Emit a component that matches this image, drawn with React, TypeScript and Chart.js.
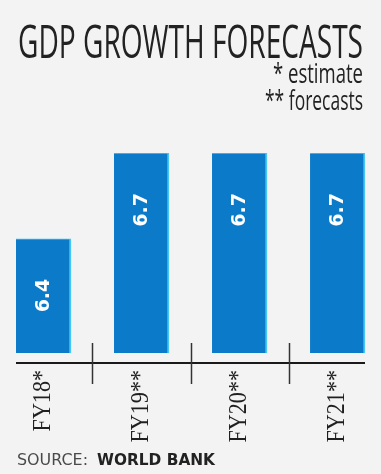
import React, { useEffect, useRef } from 'react';
import { Chart, registerables } from 'chart.js';

Chart.register(...registerables);

// ---- data ----
const categories: string[] = ['FY18*', 'FY19**', 'FY20**', 'FY21**'];
const growth: number[] = [6.4, 6.7, 6.7, 6.7];
const barBase = 6.0;
const yMin = 5.965;
const yMax = 6.7;
const xMin = -0.28;
const xMax = 3.28;

const titleText = 'GDP GROWTH FORECASTS';
const noteLines: string[] = ['* estimate', '** forecasts'];
const sourceLabel = 'SOURCE:';
const sourceName = 'WORLD BANK';

const BG = '#f3f3f3';
const BAR = '#0b7bc9';
const BAR_EDGE = '#45c8f0';
const INK = '#1f1f1f';

function drawFit(
  ctx: CanvasRenderingContext2D,
  text: string,
  x: number,
  y: number,
  font: string,
  color: string,
  width: number,
  align: CanvasTextAlign
) {
  ctx.save();
  ctx.font = font;
  const m = ctx.measureText(text).width || 1;
  const s = width / m;
  ctx.translate(x, y);
  ctx.scale(s, 1);
  ctx.textAlign = align;
  ctx.textBaseline = 'alphabetic';
  ctx.fillStyle = color;
  ctx.fillText(text, 0, 0);
  ctx.restore();
}

const decor = {
  id: 'decor',
  beforeDraw(chart: any) {
    const { ctx, width, height } = chart;
    ctx.save();
    ctx.fillStyle = BG;
    ctx.fillRect(0, 0, width, height);
    ctx.restore();
  },
  afterDatasetsDraw(chart: any) {
    const { ctx, chartArea } = chart;
    const xScale = chart.scales.x;
    const meta = chart.getDatasetMeta(0);

    // axis line
    ctx.save();
    ctx.strokeStyle = '#1a1a1a';
    ctx.lineWidth = 2;
    ctx.beginPath();
    ctx.moveTo(chartArea.left, chartArea.bottom);
    ctx.lineTo(chartArea.right, chartArea.bottom);
    ctx.stroke();

    // separators between categories
    ctx.strokeStyle = '#333';
    ctx.lineWidth = 1.5;
    for (let i = 0; i < categories.length - 1; i++) {
      const px = Math.round(xScale.getPixelForValue(i + 0.5)) + 0.5;
      ctx.beginPath();
      ctx.moveTo(px, chartArea.bottom - 20);
      ctx.lineTo(px, chartArea.bottom + 21);
      ctx.stroke();
    }
    ctx.restore();

    // value labels inside bars
    meta.data.forEach((bar: any, i: number) => {
      ctx.save();
      ctx.translate(bar.x, bar.y + 40);
      ctx.rotate(-Math.PI / 2);
      ctx.scale(0.95, 1);
      ctx.font = 'bold 20px "DejaVu Sans"';
      ctx.fillStyle = '#ffffff';
      ctx.textAlign = 'right';
      ctx.textBaseline = 'middle';
      ctx.fillText(growth[i].toFixed(1), 0, 0);
      ctx.restore();
    });

    // category labels (rotated, serif)
    categories.forEach((c, i) => {
      const px = xScale.getPixelForValue(i);
      ctx.save();
      ctx.translate(px, chartArea.bottom + 7);
      ctx.rotate(-Math.PI / 2);
      ctx.scale(0.85, 1);
      ctx.font = '26px "Liberation Serif"';
      ctx.fillStyle = INK;
      ctx.textAlign = 'right';
      ctx.textBaseline = 'middle';
      ctx.fillText(c, 0, 0);
      ctx.restore();
    });

    // title and notes
    drawFit(ctx, titleText, 18, 58, '500 46px "Open Sans"', '#222', 345, 'left');
    drawFit(ctx, noteLines[0], 363, 83, '500 28px "Open Sans"', '#222', 90, 'right');
    drawFit(ctx, noteLines[1], 363, 110, '500 28px "Open Sans"', '#222', 98, 'right');

    // source
    drawFit(ctx, sourceLabel, 17, 465, '16px "DejaVu Sans"', '#4a4a4a', 71, 'left');
    drawFit(ctx, sourceName, 97, 465, 'bold 16px "DejaVu Sans"', '#222', 118, 'left');
  },
};

export default function App() {
  const ref = useRef<HTMLCanvasElement | null>(null);

  useEffect(() => {
    document.body.style.margin = '0';
    document.body.style.background = BG;
    const canvas = ref.current;
    if (!canvas) return;
    const chart = new Chart(canvas, {
      type: 'bar',
      data: {
        datasets: [
          {
            data: categories.map((c, i) => ({ x: i, y: growth[i] })),
            base: barBase,
            backgroundColor: BAR,
            borderColor: BAR_EDGE,
            borderWidth: { top: 1, right: 2, left: 0, bottom: 0 },
            borderSkipped: false,
            barThickness: 55,
          } as any,
        ],
      },
      options: {
        animation: false,
        responsive: false,
        devicePixelRatio: 1,
        layout: { padding: { left: 16, right: 16, top: 153, bottom: 111 } },
        plugins: {
          legend: { display: false },
          tooltip: { enabled: false },
          title: { display: false },
        },
        scales: {
          x: { type: 'linear', min: xMin, max: xMax, display: false, offset: false },
          y: { type: 'linear', min: yMin, max: yMax, display: false },
        },
      },
      plugins: [decor],
    });
    return () => chart.destroy();
  }, []);

  return (
    <div style={{ width: 381, height: 474, background: BG }}>
      <canvas ref={ref} width={381} height={474} style={{ display: 'block' }} />
    </div>
  );
}
